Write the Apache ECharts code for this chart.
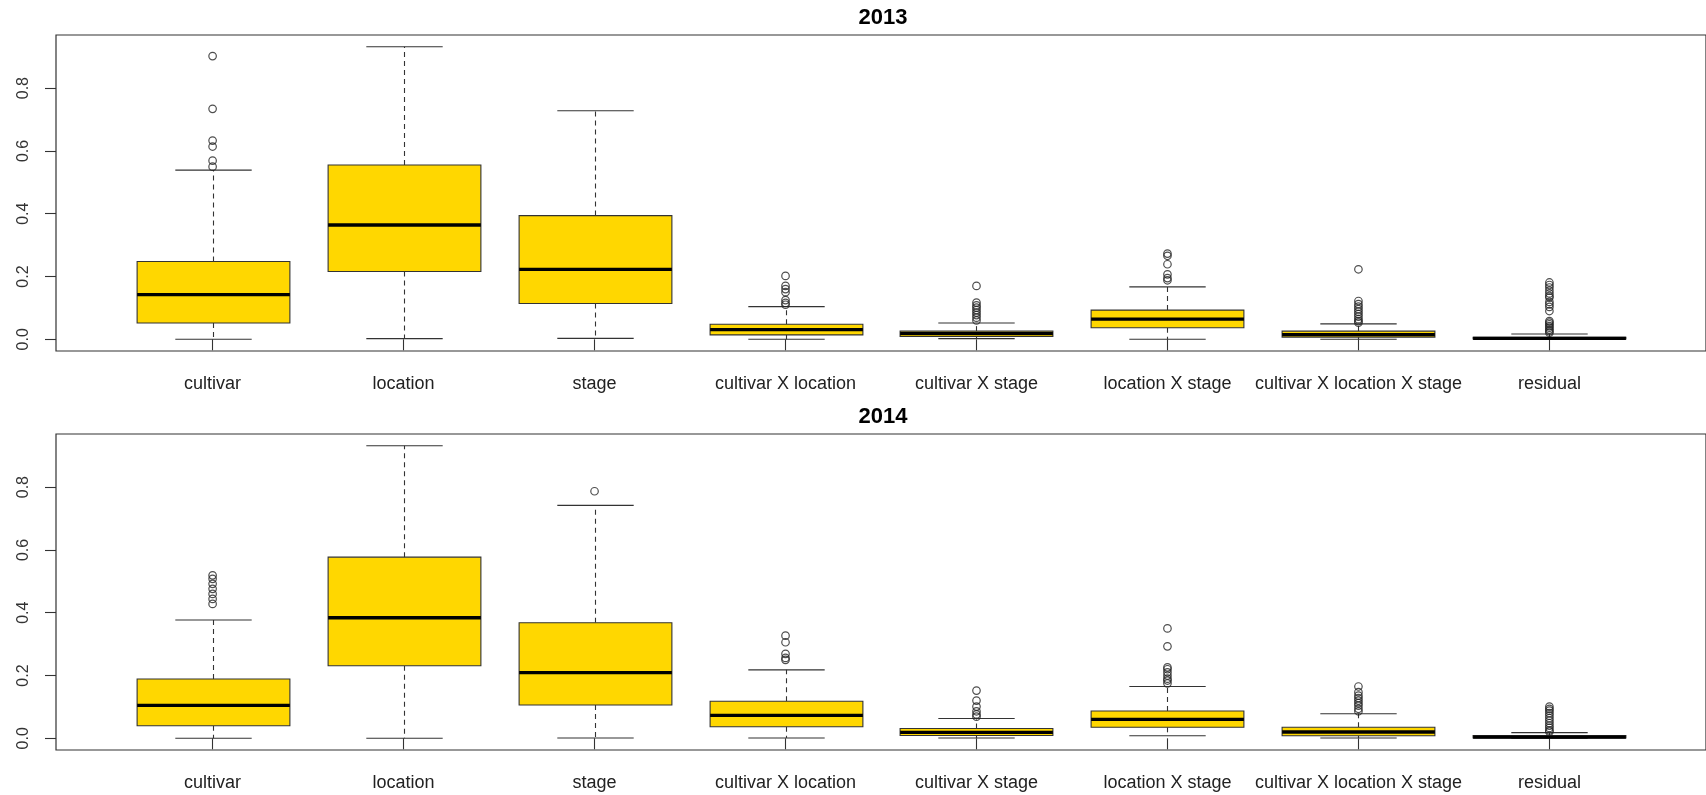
<!DOCTYPE html>
<html>
<head>
<meta charset="utf-8">
<script src="https://cdn.jsdelivr.net/npm/echarts@6/dist/echarts.min.js"></script>
<style>
  html, body { margin: 0; padding: 0; background: #ffffff; }
  #chart { width: 1706px; height: 795px; }
</style>
</head>
<body>
<div id="chart"></div>
<script>
// Variance-component shares per source of variation, one box per term.
const categories = ['cultivar', 'location', 'stage', 'cultivar X location', 'cultivar X stage',
                    'location X stage', 'cultivar X location X stage', 'residual'];
const yTicks = [0.0, 0.2, 0.4, 0.6, 0.8];

// 2013: whisker ends, quartiles and medians
const lower2013  = [0.000, 0.002, 0.003, 0.000, 0.002, 0.000, 0.000, 0.000];
const q1_2013    = [0.052, 0.216, 0.114, 0.014, 0.009, 0.037, 0.007, 0.001];
const median2013 = [0.142, 0.364, 0.223, 0.031, 0.018, 0.064, 0.015, 0.003];
const q3_2013    = [0.248, 0.555, 0.394, 0.048, 0.026, 0.093, 0.026, 0.006];
const upper2013  = [0.539, 0.932, 0.728, 0.104, 0.052, 0.167, 0.049, 0.017];
const outliers2013 = [
  [0.902, 0.734, 0.633, 0.614, 0.569, 0.550],
  [],
  [],
  [0.202, 0.170, 0.160, 0.150, 0.125, 0.116, 0.110],
  [0.170, 0.117, 0.108, 0.101, 0.093, 0.085, 0.077, 0.069, 0.060],
  [0.273, 0.266, 0.239, 0.207, 0.195, 0.188],
  [0.223, 0.122, 0.112, 0.104, 0.096, 0.088, 0.080, 0.072, 0.064, 0.058, 0.053],
  [0.181, 0.173, 0.165, 0.155, 0.146, 0.138, 0.133, 0.119, 0.111, 0.103, 0.090,
   0.058, 0.053, 0.048, 0.042, 0.037, 0.031, 0.026, 0.021]
];

// 2014: whisker ends, quartiles and medians
const lower2014  = [0.000, 0.000, 0.001, 0.001, 0.001, 0.008, 0.001, 0.000];
const q1_2014    = [0.040, 0.231, 0.106, 0.037, 0.009, 0.035, 0.008, 0.001];
const median2014 = [0.105, 0.384, 0.209, 0.073, 0.019, 0.060, 0.020, 0.004];
const q3_2014    = [0.189, 0.577, 0.368, 0.118, 0.031, 0.087, 0.035, 0.009];
const upper2014  = [0.377, 0.932, 0.742, 0.218, 0.063, 0.165, 0.078, 0.018];
const outliers2014 = [
  [0.519, 0.508, 0.492, 0.476, 0.460, 0.444, 0.428],
  [],
  [0.787],
  [0.327, 0.306, 0.269, 0.256, 0.250],
  [0.152, 0.120, 0.101, 0.086, 0.076, 0.069],
  [0.350, 0.293, 0.226, 0.220, 0.210, 0.200, 0.190, 0.184, 0.175],
  [0.165, 0.147, 0.136, 0.128, 0.120, 0.112, 0.104, 0.094, 0.086],
  [0.101, 0.094, 0.088, 0.080, 0.072, 0.064, 0.056, 0.048, 0.040, 0.033, 0.025, 0.021]
];

const panels = [
  { title: '2013', lower: lower2013, q1: q1_2013, median: median2013, q3: q3_2013, upper: upper2013, outliers: outliers2013 },
  { title: '2014', lower: lower2014, q1: q1_2014, median: median2014, q3: q3_2014, upper: upper2014, outliers: outliers2014 }
];

const FILL = '#FFD700';
const LINE = '#333333';
const FONT = '"Liberation Sans", Arial, sans-serif';

const gridLeft = 56, gridWidth = 1654, gridHeight = 316;
const gridTops = [35, 434];

// Axis padding as in base graphics: 4% beyond the data range on each side
function padded(lo, hi) {
  const p = (hi - lo) * 0.04;
  return [lo - p, hi + p];
}
const xRange = padded(0.5, categories.length + 0.5);

function renderBox(params, api) {
  const x = api.value(0);
  const pLo = api.coord([x, api.value(1)]);
  const pQ1 = api.coord([x, api.value(2)]);
  const pMed = api.coord([x, api.value(3)]);
  const pQ3 = api.coord([x, api.value(4)]);
  const pHi = api.coord([x, api.value(5)]);
  const half = api.size([0.8, 0])[0] / 2;
  const cap = half / 2;
  const cx = Math.round(pLo[0]) + 0.5;
  const thin = { stroke: LINE, lineWidth: 1.1 };
  const dashed = { stroke: LINE, lineWidth: 1.1, lineDash: [5, 4] };
  return {
    type: 'group',
    children: [
      { type: 'line', shape: { x1: cx, y1: pQ3[1], x2: cx, y2: pHi[1] }, style: dashed },
      { type: 'line', shape: { x1: cx, y1: pQ1[1], x2: cx, y2: pLo[1] }, style: dashed },
      { type: 'line', shape: { x1: cx - cap, y1: pHi[1], x2: cx + cap, y2: pHi[1] }, style: thin },
      { type: 'line', shape: { x1: cx - cap, y1: pLo[1], x2: cx + cap, y2: pLo[1] }, style: thin },
      { type: 'rect', shape: { x: cx - half, y: pQ3[1], width: 2 * half, height: pQ1[1] - pQ3[1] },
        style: { fill: FILL, stroke: LINE, lineWidth: 1.1 } },
      { type: 'line', shape: { x1: cx - half, y1: pMed[1], x2: cx + half, y2: pMed[1] },
        style: { stroke: '#000000', lineWidth: 3.3 } }
    ]
  };
}

const option = {
  backgroundColor: '#ffffff',
  animation: false,
  title: [],
  grid: [],
  xAxis: [],
  yAxis: [],
  series: []
};

panels.forEach((p, k) => {
  const allVals = [].concat(p.lower, p.upper, ...p.outliers);
  const yRange = padded(Math.min(...allVals), Math.max(...allVals));

  option.grid.push({
    left: gridLeft, top: gridTops[k], width: gridWidth, height: gridHeight,
    show: true, borderColor: LINE, borderWidth: 1.2, backgroundColor: 'transparent',
    containLabel: false
  });
  option.title.push({
    text: p.title,
    left: gridLeft + gridWidth / 2 - 5,
    top: gridTops[k] - 33,
    textAlign: 'center',
    textStyle: { fontFamily: FONT, fontSize: 22, fontWeight: 'bold', color: '#000000' }
  });
  option.xAxis.push({
    type: 'value', gridIndex: k, min: xRange[0], max: xRange[1],
    splitLine: { show: false },
    axisLine: { show: false },
    axisTick: { show: true, inside: false, length: 11, customValues: categories.map((c, i) => i + 1),
                lineStyle: { color: LINE, width: 1.1 } },
    axisLabel: { show: true, margin: 24, customValues: categories.map((c, i) => i + 1),
                 formatter: v => categories[Math.round(v) - 1],
                 fontFamily: FONT, fontSize: 18, color: '#222222' }
  });
  option.yAxis.push({
    type: 'value', gridIndex: k, min: yRange[0], max: yRange[1],
    splitLine: { show: false },
    axisLine: { show: false },
    axisTick: { show: true, inside: false, length: 11, customValues: yTicks,
                lineStyle: { color: LINE, width: 1.1 } },
    axisLabel: { show: true, margin: 24, rotate: 90, customValues: yTicks,
                 formatter: v => v.toFixed(1),
                 fontFamily: FONT, fontSize: 16, color: '#333333' }
  });

  option.series.push({
    type: 'custom', xAxisIndex: k, yAxisIndex: k,
    renderItem: renderBox,
    encode: { x: 0, y: [1, 2, 3, 4, 5] },
    data: categories.map((c, i) => [i + 1, p.lower[i], p.q1[i], p.median[i], p.q3[i], p.upper[i]]),
    z: 2
  });

  const pts = [];
  p.outliers.forEach((arr, i) => arr.forEach(v => pts.push([i + 1, v])));
  option.series.push({
    type: 'scatter', xAxisIndex: k, yAxisIndex: k,
    data: pts,
    symbol: 'circle', symbolSize: 7.5,
    itemStyle: { color: 'rgba(0,0,0,0)', borderColor: '#222222', borderWidth: 1.2 },
    z: 3
  });
});

const chart = echarts.init(document.getElementById('chart'), null, { renderer: 'canvas' });
chart.setOption(option);
</script>
</body>
</html>
